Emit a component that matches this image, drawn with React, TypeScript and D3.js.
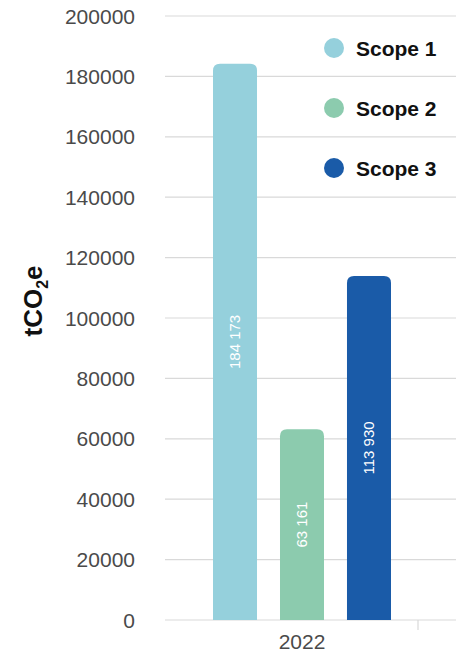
import React from "react";
import * as d3 from "d3";

const categories = ["2022"];
const seriesNames = ["Scope 1", "Scope 2", "Scope 3"];
const seriesValues = [184173, 63161, 113930];
const seriesLabels = ["184 173", "63 161", "113 930"];
const seriesColors = ["#95D0DC", "#8CCBAE", "#1A5BA8"];
const yTicks = [0, 20000, 40000, 60000, 80000, 100000, 120000, 140000, 160000, 180000, 200000];

const W = 456;
const H = 654;
const FONT = "'Liberation Sans', Arial, Helvetica, sans-serif";

export default function App() {
  const y = d3.scaleLinear().domain([0, 200000]).range([620, 16]);
  const x0 = d3.scaleBand().domain(categories).range([186, 418]);
  const x1 = d3
    .scaleBand()
    .domain(seriesNames)
    .range([213 - 186, 391 - 186])
    .paddingInner(0.343);
  const r = 7;

  const barPath = (x: number, w: number, top: number, bottom: number) => {
    const rr = Math.min(r, (bottom - top) / 2);
    return `M${x},${bottom}V${top + rr}Q${x},${top} ${x + rr},${top}H${x + w - rr}Q${x + w},${top} ${x + w},${top + rr}V${bottom}Z`;
  };

  return (
    <svg
      width={W}
      height={H}
      style={{ position: "absolute", left: 0, top: 0, background: "#fff" }}
      fontFamily={FONT}
    >
      {yTicks.map((t) => (
        <g key={t}>
          <line x1={165} x2={W} y1={y(t)} y2={y(t)} stroke="#d9d9d9" strokeWidth={1.2} />
          <text x={135} y={y(t)} dy="0.36em" textAnchor="end" fontSize={21} fill="#4a4a4a">
            {t}
          </text>
        </g>
      ))}
      <line x1={418} x2={418} y1={620} y2={630} stroke="#d9d9d9" strokeWidth={1.2} />
      {categories.map((c) => (
        <g key={c} transform={`translate(${x0(c)},0)`}>
          {seriesNames.map((s, i) => {
            const bx = x1(s)!;
            const bw = x1.bandwidth();
            const top = y(seriesValues[i]);
            const bottom = y(0);
            return (
              <g key={s}>
                <path d={barPath(bx, bw, top, bottom)} fill={seriesColors[i]} />
                <text
                  transform={`translate(${bx + bw / 2},${(top + bottom) / 2}) rotate(-90)`}
                  textAnchor="middle"
                  dy="0.36em"
                  fontSize={15}
                  fill="#fff"
                >
                  {seriesLabels[i]}
                </text>
              </g>
            );
          })}
          <text
            x={x0.bandwidth() / 2}
            y={649}
            textAnchor="middle"
            fontSize={21}
            fill="#4a4a4a"
          >
            {c}
          </text>
        </g>
      ))}
      {seriesNames.map((s, i) => (
        <g key={s} transform={`translate(334,${48 + i * 60})`}>
          <circle r={10} fill={seriesColors[i]} />
          <text x={22} dy="0.36em" fontSize={21} fontWeight="bold" fill="#111">
            {s}
          </text>
        </g>
      ))}
      <text
        transform="translate(42,301) rotate(-90)"
        textAnchor="middle"
        fontSize={26}
        fontWeight="bold"
        fill="#111"
      >
        tCO
        <tspan fontSize={16} dy="6">2</tspan>
        <tspan dy="-6">e</tspan>
      </text>
    </svg>
  );
}
